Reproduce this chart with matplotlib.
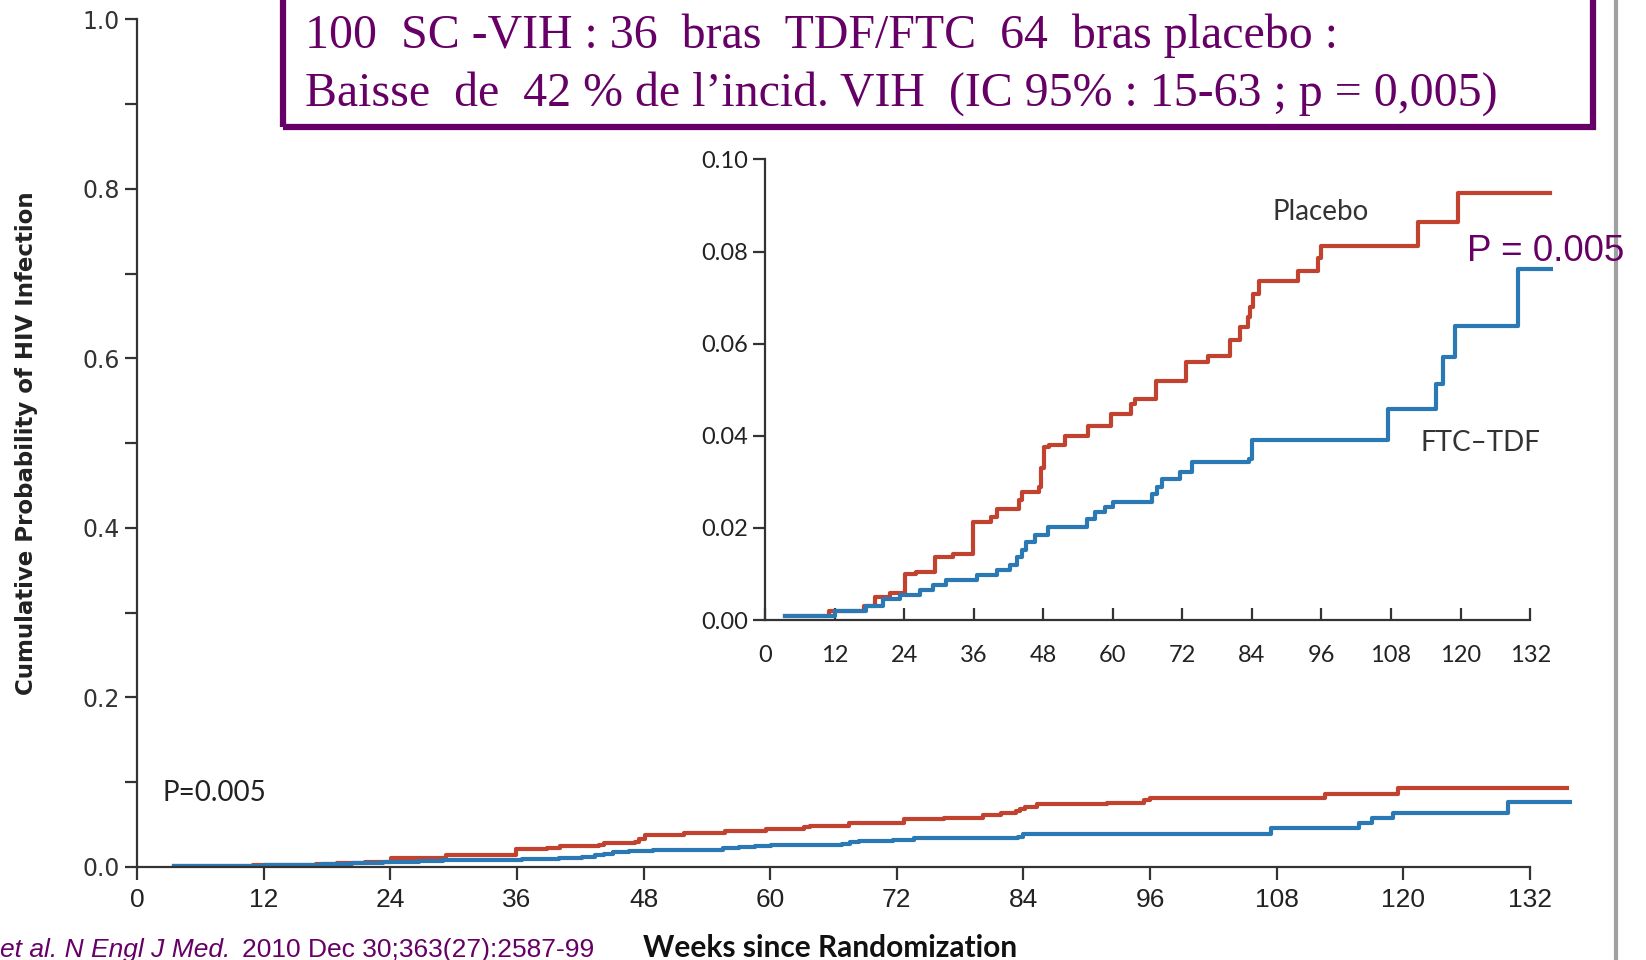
import matplotlib.pyplot as plt
from matplotlib.patches import Rectangle

# Kaplan-Meier steps (weeks, cumulative probability)
placebo_t = [3.5, 11, 17, 19, 21.6, 24.1, 26.1, 29.3, 32.5, 35.9, 38.9, 40.1, 43.8, 44.3,
             47.2, 47.6, 48.1, 49.0, 51.8, 55.7, 59.6, 63.2, 63.8, 67.5, 72.7, 76.5, 80.2,
             81.9, 83.3, 83.7, 84.1, 85.3, 91.9, 95.4, 96.0, 112.6, 119.5, 135.5]
placebo_v = [0.001, 0.002, 0.003, 0.005, 0.0058, 0.0100, 0.0105, 0.0137, 0.0144, 0.0213,
             0.0224, 0.0242, 0.026, 0.0278, 0.029, 0.033, 0.0375, 0.038, 0.040, 0.0422,
             0.0448, 0.047, 0.048, 0.052, 0.056, 0.0574, 0.0607, 0.0636, 0.0657, 0.068,
             0.0708, 0.0737, 0.0758, 0.0787, 0.0813, 0.0863, 0.0928, 0.0928]
ftc_t = [3.5, 12, 17.5, 20.4, 23.3, 26.7, 29, 31.3, 36.5, 40, 42.2, 43.4, 44.3, 45.1, 46.6,
         48.9, 55.5, 57, 58.6, 60.1, 66.8, 67.6, 68.4, 71.6, 73.6, 83.5, 84.0, 107.5,
         115.8, 117.0, 119.0, 129.9, 135.8]
ftc_v = [0.001, 0.002, 0.003, 0.0047, 0.0054, 0.0065, 0.0076, 0.0087, 0.0097, 0.0108,
         0.0119, 0.0137, 0.0152, 0.017, 0.0184, 0.0202, 0.022, 0.0235, 0.0246, 0.0256,
         0.0274, 0.029, 0.0307, 0.0321, 0.0343, 0.035, 0.0390, 0.0459, 0.0513, 0.0571,
         0.0639, 0.0762, 0.0762]

weeks = list(range(0, 133, 12))
main_yticks = [0.0, 0.2, 0.4, 0.6, 0.8, 1.0]
inset_yticks = [0.0, 0.02, 0.04, 0.06, 0.08, 0.10]

red = '#c1432f'
blue = '#2a79b5'
purple = '#660066'
axcol = '#333333'

fig = plt.figure(figsize=(16.46, 9.6), dpi=100)

# main axes
ax = fig.add_axes([0.0832, 0.097, 0.872, 0.883])
ax.step(placebo_t, placebo_v, where='post', color=red, lw=3)
ax.step(ftc_t, ftc_v, where='post', color=blue, lw=3)
ax.set_xlim(0, 136)
ax.set_ylim(0, 1.0)
for s in ['top', 'right']:
    ax.spines[s].set_visible(False)
for s in ['left', 'bottom']:
    ax.spines[s].set_color(axcol)
    ax.spines[s].set_linewidth(1.6)
ax.spines['bottom'].set_bounds(0, 132)
ax.set_xticks(weeks)
ax.set_xticklabels([str(w) for w in weeks], family='Liberation Sans',
                   fontsize=19, color='#222222')
ax.set_yticks(main_yticks)
ax.set_yticklabels(['%.1f' % v for v in main_yticks], fontsize=17, color='#333333')
ax.set_yticks([0.1, 0.3, 0.5, 0.7, 0.9], minor=True)
ax.tick_params(axis='both', which='both', direction='out', length=9, width=1.6, color=axcol)
ax.tick_params(axis='x', pad=6)
ax.text(2.4, 0.087, 'P=0.005', fontsize=20, family='Lato', color='#222222', va='center')

# inset
ins = fig.add_axes([0.4648, 0.354, 0.4789, 0.480])
ins.step(placebo_t, placebo_v, where='post', color=red, lw=3)
ins.step(ftc_t, ftc_v, where='post', color=blue, lw=3)
ins.set_xlim(0, 136)
ins.set_ylim(0, 0.10)
for s in ['top', 'right']:
    ins.spines[s].set_visible(False)
for s in ['left', 'bottom']:
    ins.spines[s].set_color(axcol)
    ins.spines[s].set_linewidth(1.6)
ins.spines['bottom'].set_bounds(0, 132)
ins.set_xticks(weeks)
ins.set_xticklabels([str(w) for w in weeks], family='Lato', fontsize=17, color='#222222')
ins.set_yticks(inset_yticks)
ins.set_yticklabels(['%.2f' % v for v in inset_yticks], family='Lato', fontsize=17,
                    color='#222222')
ins.tick_params(axis='x', direction='in', length=9, width=1.6, color=axcol, pad=18)
ins.tick_params(axis='y', direction='out', length=9, width=1.6, color=axcol)
ins.patch.set_alpha(0)
ins.text(87.5, 0.0886, 'Placebo', family='Lato', fontsize=20, color='#333333', va='center')
ins.text(113, 0.0384, 'FTC\u2013TDF', family='Lato', fontsize=20, color='#333333',
         va='center')

# labels
fig.text(0.016, 0.538, 'Cumulative Probability of HIV Infection',
         fontweight='bold', fontsize=16.5,
         rotation=90, ha='center', va='center', color='#222222')
fig.text(0.504, 0.012, 'Weeks since Randomization', family='Lato', fontweight='bold',
         fontsize=21.5, ha='center', va='center', color='#111111')
fig.text(0.0, 0.010, 'et al. N Engl J Med.', style='italic', family='Liberation Sans',
         fontsize=19, color=purple, va='center')
fig.text(0.147, 0.010, '2010 Dec 30;363(27):2587-99', family='Liberation Sans',
         fontsize=19, color=purple, va='center')
fig.text(0.8915, 0.738, 'P = 0.005', family='Liberation Sans', fontsize=26.5, color=purple,
         va='center')

# title box
fig.patches.append(Rectangle((0.172, 0.868), 0.796, 0.2, transform=fig.transFigure,
                             fill=False, edgecolor=purple, lw=4.5))
fig.text(0.185, 0.963, '100  SC -VIH : 36  bras  TDF/FTC  64  bras placebo :',
         family='Liberation Serif', fontsize=34.5, color=purple, va='center')
fig.text(0.185, 0.903, 'Baisse  de  42 % de l\u2019incid. VIH  (IC 95% : 15-63 ; p = 0,005)',
         family='Liberation Serif', fontsize=34.5, color=purple, va='center')

# slide border on the right
fig.add_artist(plt.Line2D([0.982, 0.982], [0, 1], transform=fig.transFigure,
                          color='#a0a0a0', lw=3))

fig.savefig('out.png', dpi=100)
